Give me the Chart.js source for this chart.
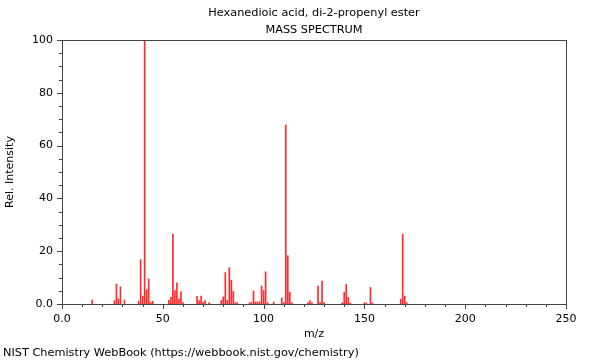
<!DOCTYPE html>
<html>
<head>
<meta charset="utf-8">
<script src="https://cdn.jsdelivr.net/npm/chart.js@4"></script>
<style>
  html, body { margin: 0; padding: 0; background: #fff; }
  #wrap { width: 600px; height: 360px; position: relative; }
</style>
</head>
<body>
<div id="wrap"><canvas id="spectrum" width="600" height="360"></canvas></div>
<script>
// peaks
const mzValues = [15, 26, 27, 28, 29, 31, 38, 39, 40, 41, 42, 43, 44, 45,
    53, 54, 55, 56, 57, 58, 59, 60, 67, 68, 69, 70, 71, 73,
    79, 80, 81, 82, 83, 84, 85, 86, 87, 93, 94, 95, 96, 97, 98, 99, 100, 101, 102, 105,
    109, 110, 111, 112, 113, 114, 122, 123, 124, 127, 128, 129, 130,
    139, 140, 141, 142, 143, 150, 151, 153, 154, 168, 169, 170, 171];
const relIntensity = [1.5, 1.3, 7.6, 2, 6.5, 1.5, 1, 16.8, 3, 100, 5.4, 9.5, 0.6, 1,
    1.4, 2.5, 26.5, 5.1, 8, 1.9, 4.7, 0.5, 2.9, 1.3, 3, 0.6, 1.3, 0.5,
    1.3, 2.7, 11.9, 1.4, 13.8, 9, 4.8, 0.5, 0.5, 0.5, 0.5, 4.9, 0.8, 0.8, 0.8, 6.8, 5.1, 12.2, 0.5, 0.8,
    2.3, 0.5, 67.8, 18.3, 4.5, 0.5, 0.4, 1.3, 0.4, 6.8, 0.5, 8.7, 0.5,
    0.5, 4.5, 7.4, 2.5, 0.4, 0.5, 0.4, 6.3, 0.5, 1.8, 26.5, 3, 0.5];

const titleLines = ['Hexanedioic acid, di-2-propenyl ester', 'MASS SPECTRUM'];
const xTicksMajor = [0, 50, 100, 150, 200, 250];
const yTicksMajor = [0, 20, 40, 60, 80, 100];

const FONT = 'DejaVu Sans';
const axisColor = '#444';

// ticks, frame and footer drawn on top of the library's scales
const framePlugin = {
    id: 'frame',
    afterDraw(chart) {
        const { ctx, chartArea: a, scales } = chart;
        ctx.save();
        ctx.strokeStyle = axisColor;
        ctx.lineWidth = 1;
        ctx.strokeRect(Math.round(a.left) + 0.5, Math.round(a.top) + 0.5,
            Math.round(a.right - a.left), Math.round(a.bottom - a.top));
        ctx.beginPath();
        for (let v = 0; v <= 250; v += 10) {
            const x = Math.round(scales.x.getPixelForValue(v)) + 0.5;
            const len = v % 50 === 0 ? 5 : 3;
            ctx.moveTo(x, Math.round(a.bottom));
            ctx.lineTo(x, Math.round(a.bottom) + len);
        }
        for (let v = 0; v <= 100; v += 5) {
            const y = Math.round(scales.y.getPixelForValue(v)) + 0.5;
            const len = v % 20 === 0 ? 5 : 3;
            ctx.moveTo(Math.round(a.left), y);
            ctx.lineTo(Math.round(a.left) - len, y);
        }
        ctx.stroke();
        ctx.fillStyle = '#000';
        ctx.font = '11.3px "' + FONT + '"';
        ctx.textAlign = 'left';
        ctx.textBaseline = 'middle';
        ctx.fillText('NIST Chemistry WebBook (https://webbook.nist.gov/chemistry)', 3, 353);
        ctx.restore();
    }
};

new Chart(document.getElementById('spectrum'), {
    type: 'bar',
    data: {
        datasets: [{
            data: mzValues.map((m, i) => ({ x: m, y: relIntensity[i] })),
            backgroundColor: '#ff2a2a',
            barThickness: 1,
            borderWidth: 0
        }]
    },
    plugins: [framePlugin],
    options: {
        responsive: false,
        animation: false,
        layout: { padding: { left: 0, right: 34, top: 0, bottom: 0 } },
        plugins: {
            legend: { display: false },
            tooltip: { enabled: false },
            title: {
                display: true,
                fullSize: false,
                text: titleLines,
                color: '#000',
                font: { family: FONT, size: 11.3, weight: 'normal', lineHeight: 1.55 },
                padding: { top: 4, bottom: 1 }
            }
        },
        scales: {
            x: {
                type: 'linear',
                min: 0,
                max: 250,
                offset: false,
                afterFit: s => { s.height = 56; },
                afterBuildTicks: s => { s.ticks = xTicksMajor.map(v => ({ value: v })); },
                grid: { display: false, drawTicks: false },
                border: { display: true, color: axisColor },
                ticks: {
                    color: '#000',
                    padding: 9,
                    maxRotation: 0,
                    font: { family: FONT, size: 11 },
                    callback: v => v === 0 ? '0.0' : String(v)
                },
                title: {
                    display: true,
                    text: 'm/z',
                    color: '#000',
                    font: { family: FONT, size: 11 },
                    padding: { top: 4, bottom: 19 }
                }
            },
            y: {
                min: 0,
                max: 100,
                afterFit: s => { s.width = 62; },
                afterBuildTicks: s => { s.ticks = yTicksMajor.map(v => ({ value: v })); },
                grid: { display: false, drawTicks: false },
                border: { display: true, color: axisColor },
                ticks: {
                    color: '#000',
                    padding: 9,
                    font: { family: FONT, size: 11 },
                    callback: v => v === 0 ? '0.0' : String(v)
                },
                title: {
                    display: true,
                    text: 'Rel. Intensity',
                    color: '#000',
                    font: { family: FONT, size: 11 },
                    padding: { top: 4, bottom: 0 }
                }
            }
        }
    }
});
</script>
</body>
</html>
